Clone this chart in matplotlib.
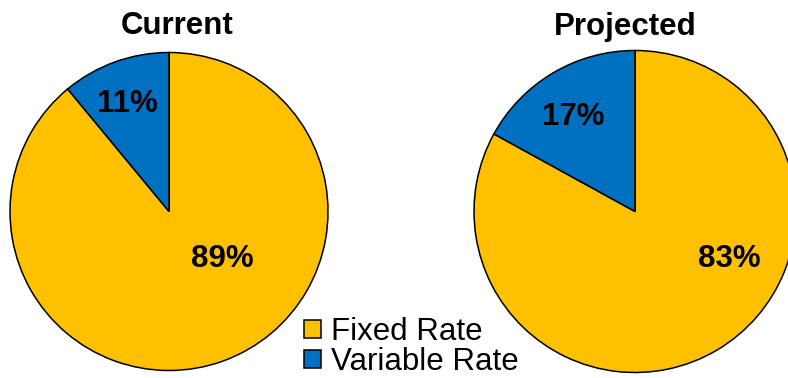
import matplotlib
matplotlib.use("Agg")
import matplotlib.pyplot as plt

plt.rcParams['font.family'] = ['Liberation Sans', 'DejaVu Sans']

# Anteil fester und variabler Zinsen
categories = ['Fixed Rate', 'Variable Rate']
titles = ['Current', 'Projected']
current = [89, 11]
projected = [83, 17]
colors = ['#FFC000', '#0070C0']

W, H = 788, 378
fig = plt.figure(figsize=(W / 100, H / 100), dpi=100)
ax = fig.add_axes([0, 0, 1, 1])

# pie layout in pixel coordinates (y upward)
layout = [
    dict(vals=current, title=titles[0], center=(169, H - 211.5), radius=159,
         title_xy=(177.5, H - 34.5),
         label_xy=[(222, H - 267), (127, H - 112)]),
    dict(vals=projected, title=titles[1], center=(635, H - 211.5), radius=161,
         title_xy=(625, H - 34.5),
         label_xy=[(729, H - 267), (573, H - 125)]),
]

wedges_all = []
for p in layout:
    wedges, _ = ax.pie(p['vals'], colors=colors, startangle=90, counterclock=False,
                       center=p['center'], radius=p['radius'],
                       wedgeprops=dict(edgecolor='black', linewidth=1.1))
    wedges_all.append(wedges)
    for v, (x, y) in zip(p['vals'], p['label_xy']):
        ax.text(x, y, f"{v}%", ha='center', va='baseline', fontsize=22.5,
                fontweight='bold', color='black')
    ax.text(p['title_xy'][0], p['title_xy'][1], p['title'], ha='center',
            va='baseline', fontsize=22.5, fontweight='bold', color='black')

ax.set_xlim(0, W)
ax.set_ylim(0, H)
ax.set_aspect('equal')
ax.axis('off')

leg = ax.legend(wedges_all[0], categories, loc='upper left',
                bbox_to_anchor=(304 / W, 1 - 317 / H), frameon=False,
                fontsize=22.5, handlelength=0.55, handleheight=0.55,
                handletextpad=0.3, labelspacing=0.0, borderpad=0,
                borderaxespad=0)

fig.savefig('out.png', dpi=100)
